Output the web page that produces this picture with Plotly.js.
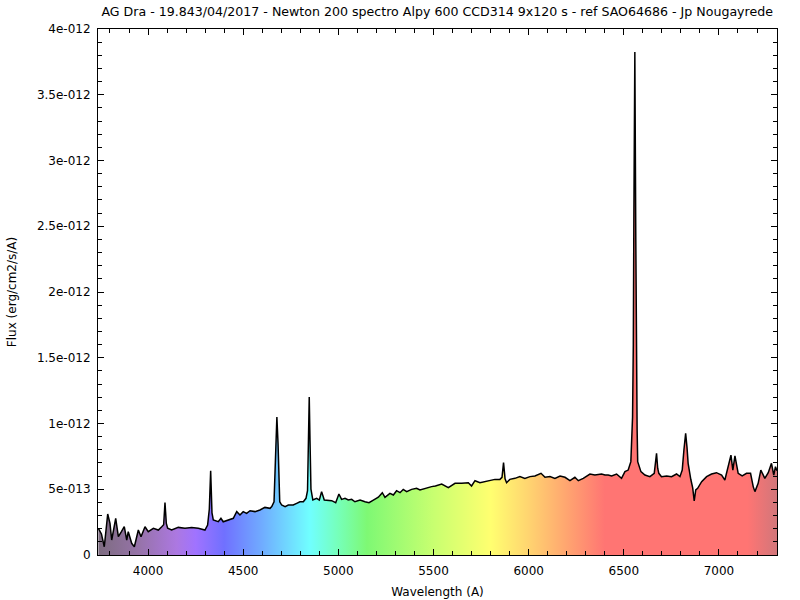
<!DOCTYPE html>
<html>
<head>
<meta charset="utf-8">
<script src="https://cdn.plot.ly/plotly-3.0.1.min.js"></script>
<style>html,body{margin:0;padding:0;background:#fff;}#chart{width:800px;height:600px;}</style>
</head>
<body>
<div id="chart"></div>
<script>
// Wavelength (Angstrom)
const wavelength = [
3739,3755,3770,3788,3800,3809,3830,3844,3860,3875,3888,3896,3914,3928,3949,3963,3984,4001,4028,4054,
4072,4082,4089,4096,4103,4124,4159,4194,4229,4264,4299,4313,4322,4329,4336,4343,4369,4383,4395,4421,
4448,4466,4483,4500,4518,4536,4562,4588,4614,4641,4650,4662,4671,4677,4683,4692,4702,4720,4737,4763,
4781,4798,4816,4830,4838,4842,4847,4851,4856,4866,4886,4900,4912,4926,4947,4965,4986,5003,5017,5035,
5052,5070,5087,5114,5140,5161,5184,5210,5231,5245,5271,5289,5306,5324,5341,5359,5385,5411,5429,5455,
5490,5510,5543,5578,5613,5648,5683,5700,5718,5744,5770,5797,5823,5849,5860,5868,5876,5884,5901,5928,
5954,5980,6007,6033,6065,6086,6112,6138,6165,6191,6217,6243,6261,6287,6322,6348,6383,6401,6418,6436,
6462,6488,6506,6523,6537,6546,6550,6553,6558,6563,6566,6570,6573,6590,6611,6637,6660,6666,6672,6678,
6684,6698,6725,6751,6777,6795,6807,6816,6825,6832,6838,6852,6862,6870,6878,6888,6909,6935,6961,6987,7014,7031,
7049,7063,7073,7084,7101,7122,7145,7166,7180,7189,7206,7220,7241,7259,7276,7288,7297,7305
];
// Flux in units of 1e-13 erg/cm2/s/A
const flux = [
2.03,1.60,0.63,3.12,2.41,1.14,2.79,1.39,1.77,2.15,1.14,1.77,0.89,0.63,1.90,1.39,2.15,1.77,2.03,1.90,
2.15,2.30,3.98,2.40,2.03,1.90,2.10,2.03,2.10,2.03,1.90,2.28,3.50,6.41,3.20,2.66,2.53,2.79,2.53,2.66,
2.79,3.30,3.04,3.30,3.17,3.37,3.30,3.42,3.62,3.55,3.68,4.05,8.50,10.49,8.50,4.05,3.80,3.68,3.80,3.80,
3.93,4.05,4.05,4.31,4.90,8.75,12.02,8.75,5.00,4.18,4.31,4.18,4.82,4.18,4.18,4.13,3.98,4.64,4.23,4.31,
4.18,4.23,4.05,4.18,4.05,3.98,4.18,4.39,4.74,4.39,4.69,4.56,4.89,4.74,4.99,4.82,4.99,5.07,4.94,5.07,
5.20,5.25,5.40,5.12,5.45,5.45,5.50,5.25,5.65,5.50,5.58,5.65,5.75,5.75,5.90,7.02,5.80,5.50,5.75,5.83,
5.96,5.83,5.96,6.01,6.21,5.91,5.96,5.83,6.01,5.91,5.65,5.91,5.65,5.83,6.16,6.08,6.16,6.08,6.08,6.01,
6.16,5.83,6.34,6.46,7.10,10.50,16.0,26.0,38.25,24.0,15.0,9.50,7.10,6.34,6.08,5.96,6.21,6.80,7.73,6.60,
6.21,5.96,6.01,5.96,6.16,5.96,6.46,8.00,9.25,8.20,6.97,5.76,5.10,4.11,4.95,5.07,5.58,5.96,6.16,6.26,6.08,5.70,
6.84,7.60,6.46,7.53,6.21,6.01,6.21,6.21,5.20,4.82,5.45,6.46,5.83,6.26,6.97,6.08,6.72,6.40
];
// Axis ticks
const xTickVals = [4000,4500,5000,5500,6000,6500,7000];
const xTickText = ["4000","4500","5000","5500","6000","6500","7000"];
const yTickVals = [0,5,10,15,20,25,30,35,40];
const yTickText = ["0","5e-013","1e-012","1.5e-012","2e-012","2.5e-012","3e-012","3.5e-012","4e-012"];

// Spectrum colour stops (style)
const xMin = 3737, xMax = 7305;
const colorStops = [
 [3737,'rgb(125,108,128)'],[3950,'rgb(150,115,168)'],[4150,'rgb(172,120,225)'],[4250,'rgb(160,115,255)'],
 [4400,'rgb(112,112,255)'],[4600,'rgb(112,172,255)'],[4850,'rgb(112,255,255)'],[5000,'rgb(118,255,185)'],
 [5150,'rgb(126,248,116)'],[5500,'rgb(200,255,112)'],[5800,'rgb(255,255,112)'],[6000,'rgb(255,212,112)'],
 [6200,'rgb(255,165,112)'],[6400,'rgb(255,117,115)'],[7150,'rgb(255,117,115)'],[7305,'rgb(210,118,122)']
];
const colorscale = colorStops.map(s => [(s[0]-xMin)/(xMax-xMin), s[1]]);

const fam = '"DejaVu Sans", Verdana, sans-serif';
const font = {family:fam, size:12, color:'#000'};

const trace = {
  x: wavelength, y: flux, type:'scatter', mode:'lines',
  line:{color:'#000', width:1.5},
  fill:'tozeroy',
  fillgradient:{type:'horizontal', colorscale: colorscale, start:xMin, stop:xMax},
  hoverinfo:'skip'
};

const axisCommon = {
  showline:true, linecolor:'#000', linewidth:1, mirror:'allticks',
  ticks:'inside', ticklen:6, tickcolor:'#000', tickwidth:1,
  showgrid:false, zeroline:false, tickfont:font
};

const layout = {
  width:800, height:600,
  margin:{l:98, r:23, t:29, b:45},
  paper_bgcolor:'#fff', plot_bgcolor:'#fff',
  font:font,
  showlegend:false,
  title:{text:'AG Dra - 19.843/04/2017 - Newton 200 spectro Alpy 600 CCD314 9x120 s - ref SAO64686 - Jp Nougayrede',
         x:0.5465, xanchor:'center', y:0.98, yanchor:'middle', font:{family:fam, size:12.6, color:'#000'}},
  xaxis: Object.assign({}, axisCommon, {
    range:[xMin, xMax], tickmode:'array', tickvals:xTickVals, ticktext:xTickText,
    ticklabelstandoff:5,
    minor:{dtick:100, tick0:0, ticks:'inside', ticklen:4, tickcolor:'#000', showgrid:false},
    title:{text:'Wavelength (A)', font:font, standoff:10}
  }),
  yaxis: Object.assign({}, axisCommon, {
    range:[0, 40], tickmode:'array', tickvals:yTickVals, ticktext:yTickText,
    ticklabelstandoff:4,
    minor:{dtick:1, tick0:0, ticks:'inside', ticklen:4, tickcolor:'#000', showgrid:false},
    title:{text:'Flux (erg/cm2/s/A)', font:font, standoff:17}
  })
};

Plotly.newPlot('chart', [trace], layout, {staticPlot:true, displayModeBar:false});
</script>
</body>
</html>
